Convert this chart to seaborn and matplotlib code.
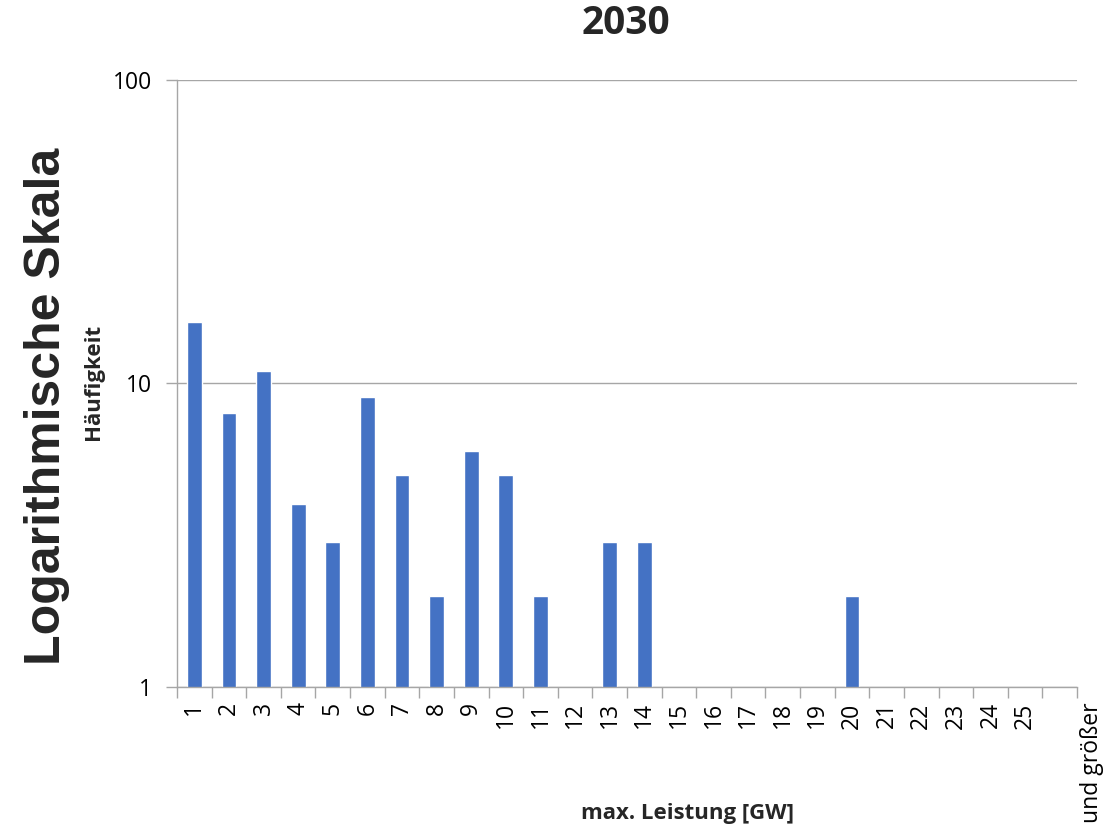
import numpy as np
import pandas as pd
import matplotlib
matplotlib.use("Agg")
import matplotlib.pyplot as plt
from matplotlib.ticker import FixedLocator, NullFormatter, FixedFormatter
from matplotlib.transforms import ScaledTranslation
import seaborn as sns

categories = [str(i) for i in range(1, 26)] + ["und größer"]
frequencies = [16, 8, 11, 4, 3, 9, 5, 2, 6, 5, 2, 0, 3, 3, 0, 0, 0, 0, 0, 2, 0, 0, 0, 0, 0, 0]
y_ticks = [1, 10, 100]
y_tick_labels = ["1", "10", "100"]

sns.set_theme(style="white")
plt.rcParams["font.family"] = ["Open Sans", "DejaVu Sans"]

df = pd.DataFrame({"Leistung": categories, "Häufigkeit": frequencies})

fig = plt.figure(figsize=(11.03, 8.33), dpi=100)
ax = fig.add_axes([0.1605, 0.1753, 0.8159, 0.7287])

sns.barplot(data=df, x="Leistung", y="Häufigkeit", color="#4472C4",
            saturation=1, width=0.43, ax=ax)

ax.set_yscale("log")
ax.set_ylim(1, 100)
ax.set_xlim(-0.5, len(categories) - 0.5)

grid_c = "#A6A6A6"
ax.yaxis.set_major_locator(FixedLocator(y_ticks))
ax.yaxis.set_major_formatter(FixedFormatter(y_tick_labels))
ax.yaxis.set_minor_locator(FixedLocator([]))
ax.grid(axis="y", which="major", color=grid_c, linewidth=1.0)
ax.set_axisbelow(True)

# Category labels centred under bars, tick marks on the boundaries
ax.set_xticks(range(len(categories)))
ax.set_xticklabels(categories, rotation=90, fontsize=16.5, color="black")
ax.tick_params(axis="x", which="major", length=0, pad=11)
ax.xaxis.set_minor_locator(FixedLocator(np.arange(-0.5, len(categories), 1.0)))
ax.xaxis.set_minor_formatter(NullFormatter())
ax.tick_params(axis="x", which="minor", length=8, width=1, color=grid_c, bottom=True)
ax.tick_params(axis="y", which="major", length=8, width=1, color=grid_c,
               labelsize=16.5, labelcolor="black", left=True, pad=10)

# The open-ended last class label sits as a second line, right of its slot
last = ax.get_xticklabels()[-1]
last.set_transform(last.get_transform() + ScaledTranslation(0.32, 0.0, fig.dpi_scale_trans))

for side in ["top", "right"]:
    ax.spines[side].set_visible(False)
for side in ["left", "bottom"]:
    ax.spines[side].set_color(grid_c)
    ax.spines[side].set_linewidth(1.0)

ax.set_xlabel("")
ax.set_ylabel("")

fig.text(0.567, 0.972, "2030", ha="center", va="center", fontsize=28, fontweight="bold")
fig.text(0.623, 0.024, "max. Leistung [GW]", ha="center", va="center", fontsize=16, fontweight="bold")
fig.text(0.0848, 0.5414, "Häufigkeit", ha="center", va="center", rotation=90, fontsize=16, fontweight="bold")
fig.text(0.0425, 0.512, "Logarithmische Skala", ha="center", va="center", rotation=90,
         fontsize=36, fontweight="bold", family=["Liberation Sans", "DejaVu Sans"])

fig.savefig("out.png", dpi=100)
